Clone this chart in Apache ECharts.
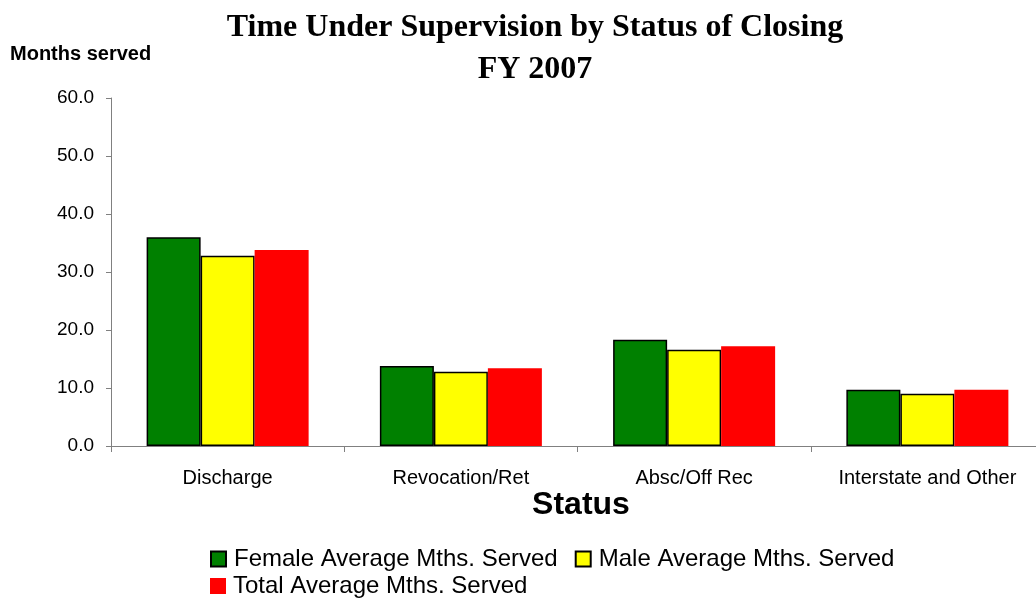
<!DOCTYPE html>
<html>
<head>
  <meta charset="UTF-8">
  <title>Time Under Supervision</title>
  <script src="https://cdn.jsdelivr.net/npm/echarts@6/dist/echarts.min.js"></script>
  <style>
    html, body { margin: 0; padding: 0; background: #fff; overflow: hidden; }
  </style>
</head>
<body>
<!-- a little wider than the window: the last category runs past the right edge -->
<div id="main" style="width: 1060px;height:599px;"></div>

<script type="text/javascript">
  // categories and values
  var statuses = ['Discharge', 'Revocation/Ret', 'Absc/Off Rec', 'Interstate and Other'];
  var femaleMonths = [36.0, 13.8, 18.3, 9.7];
  var maleMonths = [32.8, 12.8, 16.6, 9.0];
  var totalMonths = [33.8, 13.4, 17.2, 9.7];

  var seriesNames = ['Female Average Mths. Served', 'Male Average Mths. Served', 'Total Average Mths. Served'];

  var myChart = echarts.init(document.getElementById('main'));

  var fontSans = 'Liberation Sans, Arial, sans-serif';

  myChart.setOption({
    animation: false,
    title: [{
      text: 'Time Under Supervision by Status of Closing\nFY 2007',
      left: 535,
      top: 7,
      padding: 0,
      textAlign: 'center',
      textStyle: {
        fontFamily: 'Liberation Serif, Times New Roman, serif',
        fontWeight: 'bold',
        fontSize: 32,
        lineHeight: 42,
        color: '#000'
      }
    }, {
      text: 'Months served',
      left: 10,
      top: 44,
      padding: 0,
      textStyle: { fontFamily: fontSans, fontWeight: 'bold', fontSize: 20, color: '#000' }
    }, {
      text: 'Status',
      left: 581,
      top: 489,
      padding: 0,
      textAlign: 'center',
      textStyle: { fontFamily: fontSans, fontWeight: 'bold', fontSize: 32, color: '#000' }
    }],
    legend: [{
      data: [seriesNames[0], seriesNames[1]],
      left: 210,
      top: 547,
      padding: 0,
      icon: 'rect',
      itemWidth: 15,
      itemHeight: 15,
      itemGap: 17,
      textStyle: { fontFamily: fontSans, fontSize: 24, color: '#000', padding: [0, 0, 0, 3] }
    }, {
      data: [seriesNames[2]],
      left: 210,
      top: 574,
      padding: 0,
      icon: 'rect',
      itemWidth: 16,
      itemHeight: 16,
      textStyle: { fontFamily: fontSans, fontSize: 24, color: '#000', padding: [0, 0, 0, 2] }
    }],
    grid: {
      left: 111,
      top: 98,
      width: 933,
      height: 348
    },
    xAxis: {
      type: 'category',
      data: statuses,
      axisLine: { lineStyle: { color: '#808080', width: 1 } },
      axisTick: { show: true, length: 6, lineStyle: { color: '#808080' } },
      axisLabel: { fontFamily: fontSans, fontSize: 20, color: '#000', margin: 22 }
    },
    yAxis: {
      type: 'value',
      min: 0,
      max: 60,
      interval: 10,
      splitLine: { show: false },
      axisLine: { show: true, lineStyle: { color: '#808080', width: 1 } },
      axisTick: { show: true, length: 5, lineStyle: { color: '#808080' } },
      axisLabel: {
        fontFamily: fontSans, fontSize: 19, color: '#000', margin: 17,
        formatter: function (v) { return v.toFixed(1); }
      }
    },
    series: [{
      name: seriesNames[0],
      type: 'bar',
      data: femaleMonths,
      barWidth: 54,
      barGap: 0,
      itemStyle: { color: '#008000', borderColor: '#000', borderWidth: 1.5 }
    }, {
      name: seriesNames[1],
      type: 'bar',
      data: maleMonths,
      barWidth: 54,
      itemStyle: { color: '#ffff00', borderColor: '#000', borderWidth: 1.5 }
    }, {
      name: seriesNames[2],
      type: 'bar',
      data: totalMonths,
      barWidth: 54,
      itemStyle: { color: '#ff0000' }
    }]
  });
</script>
</body>
</html>
